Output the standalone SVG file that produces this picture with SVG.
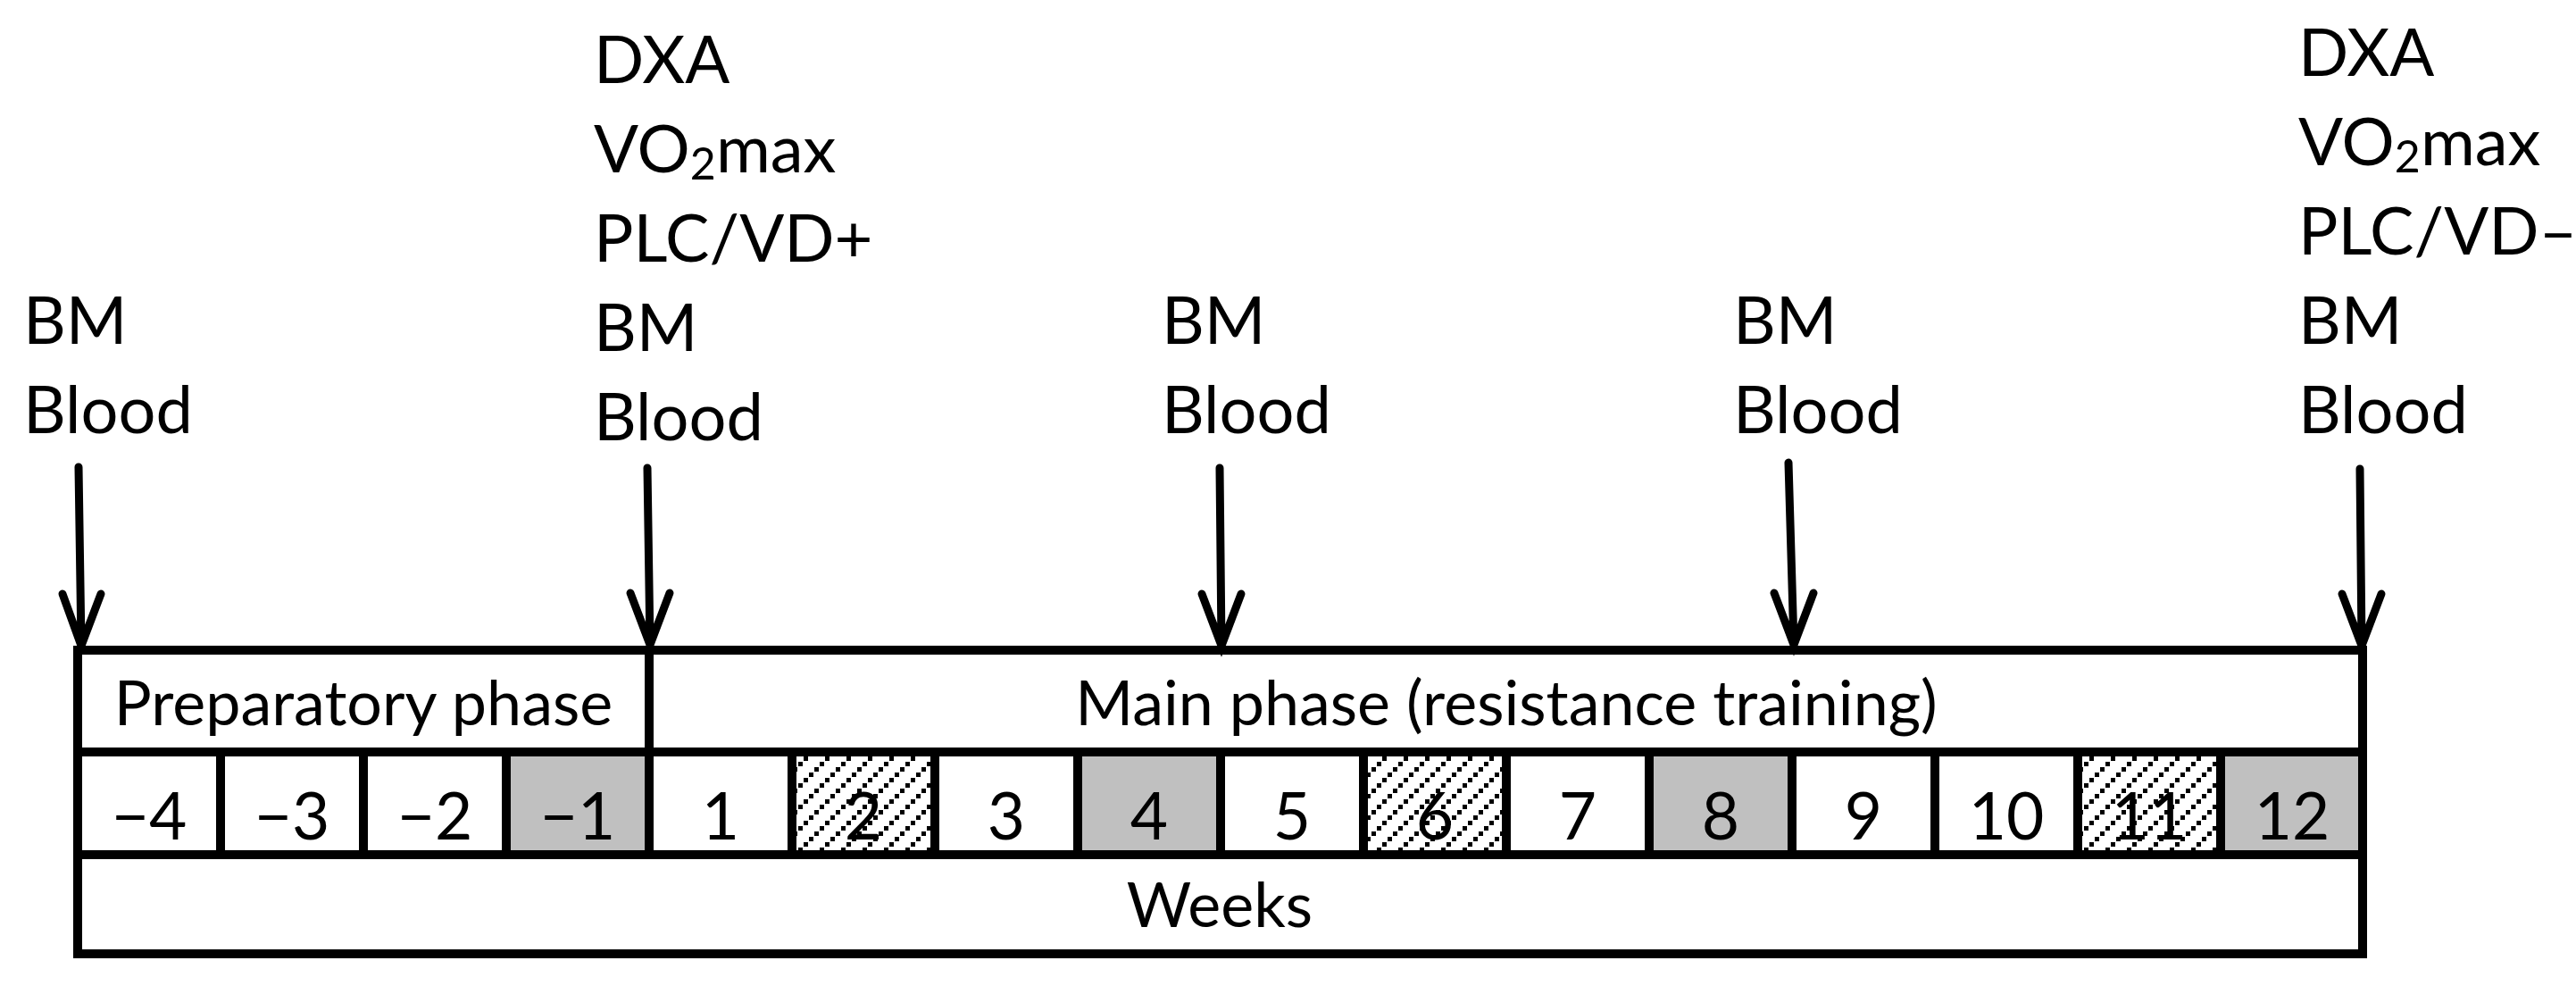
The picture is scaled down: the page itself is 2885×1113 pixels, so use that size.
<svg xmlns="http://www.w3.org/2000/svg" width="2885" height="1113" viewBox="0 0 2885 1113">
<style>
.lbl{font-family:Lato,"Open Sans","Liberation Sans",sans-serif;font-size:74px;fill:#000}
.box{font-family:Lato,"Open Sans","Liberation Sans",sans-serif;font-size:70px;fill:#000;text-anchor:middle}
.num{font-size:73px}
.ln{stroke:#000;stroke-width:10;fill:none;stroke-linecap:square}
.arr{stroke:#000;stroke-width:9;fill:none;stroke-linecap:round;stroke-linejoin:miter}
.grey{fill:#c0c0c0}
.hatch{fill:url(#dots)}
</style>
<defs>
<pattern id="dots" patternUnits="userSpaceOnUse" width="24" height="24">
<rect width="24" height="24" fill="#fff"/>
<rect x="0" y="19" width="5" height="5" fill="#000"/>
<rect x="6" y="13" width="5" height="5" fill="#000"/>
<rect x="12" y="7" width="5" height="5" fill="#000"/>
<rect x="18" y="1" width="5" height="5" fill="#000"/>
</pattern>
</defs>
<rect width="2885" height="1113" fill="#fff"/>

<g id="labels">
<g id="label-w-4">
<text class="lbl" x="26" y="385">BM</text>
<text class="lbl" x="26" y="485">Blood</text>
</g>
<g id="label-w0">
<text class="lbl" x="665" y="93">DXA</text>
<text class="lbl" x="665" y="193">VO<tspan font-size="50" dy="8">2</tspan><tspan dy="-8">max</tspan></text>
<text class="lbl" x="665" y="293">PLC/VD+</text>
<text class="lbl" x="665" y="393">BM</text>
<text class="lbl" x="665" y="493">Blood</text>
</g>
<g id="label-w4">
<text class="lbl" x="1301" y="385">BM</text>
<text class="lbl" x="1301" y="485">Blood</text>
</g>
<g id="label-w8">
<text class="lbl" x="1941" y="385">BM</text>
<text class="lbl" x="1941" y="485">Blood</text>
</g>
<g id="label-w12">
<text class="lbl" x="2574" y="85">DXA</text>
<text class="lbl" x="2574" y="185">VO<tspan font-size="50" dy="8">2</tspan><tspan dy="-8">max</tspan></text>
<text class="lbl" x="2574" y="285">PLC/VD–</text>
<text class="lbl" x="2574" y="385">BM</text>
<text class="lbl" x="2574" y="485">Blood</text>
</g>
</g>

<g id="timeline">
<g id="cells-fill">
<rect class="grey" x="567" y="842" width="160" height="115"/>
<rect class="hatch" x="887" y="842" width="160" height="115"/>
<rect class="grey" x="1207" y="842" width="160" height="115"/>
<rect class="hatch" x="1527" y="842" width="160" height="115"/>
<rect class="grey" x="1847" y="842" width="160" height="115"/>
<rect class="hatch" x="2327" y="842" width="160" height="115"/>
<rect class="grey" x="2487" y="842" width="160" height="115"/>
</g>
<g id="frame">
<rect class="ln" x="87" y="728" width="2559" height="340"/>
<line class="ln" x1="87" y1="842" x2="2646" y2="842"/>
<line class="ln" x1="87" y1="957" x2="2646" y2="957"/>
<line class="ln" x1="727" y1="728" x2="727" y2="957"/>
<path class="ln" d="M247 842V957M407 842V957M567 842V957M887 842V957M1047 842V957M1207 842V957M1367 842V957M1527 842V957M1687 842V957M1847 842V957M2007 842V957M2167 842V957M2327 842V957M2487 842V957"/>
</g>
<g id="phase-prep"><text class="box" x="407" y="812">Preparatory phase</text></g>
<g id="phase-main"><text class="box" x="1687" y="812">Main phase (resistance training)</text></g>
<g id="week-numbers">
<text class="box num" x="167" y="940">−4</text>
<text class="box num" x="327" y="940">−3</text>
<text class="box num" x="487" y="940">−2</text>
<text class="box num" x="647" y="940">−1</text>
<text class="box num" x="807" y="940">1</text>
<text class="box num" x="967" y="940">2</text>
<text class="box num" x="1127" y="940">3</text>
<text class="box num" x="1287" y="940">4</text>
<text class="box num" x="1447" y="940">5</text>
<text class="box num" x="1607" y="940">6</text>
<text class="box num" x="1767" y="940">7</text>
<text class="box num" x="1927" y="940">8</text>
<text class="box num" x="2087" y="940">9</text>
<text class="box num" x="2247" y="940">10</text>
<text class="box num" x="2407" y="940">11</text>
<text class="box num" x="2567" y="940">12</text>
</g>
<g id="weeks-label"><text class="box" x="1366" y="1038">Weeks</text></g>
</g>

<g id="connectors">
<path class="arr" d="M88 523L91 723M70 665L91 723L113 665"/>
<path class="arr" d="M725 524L728 722M706 664L728 722L750 664"/>
<path class="arr" d="M1366 524L1368 723M1346 665L1368 723L1390 665"/>
<path class="arr" d="M2003 518L2009 722M1987 664L2009 722L2031 664"/>
<path class="arr" d="M2643 525L2645 723M2623 665L2645 723L2667 665"/>
</g>
</svg>
